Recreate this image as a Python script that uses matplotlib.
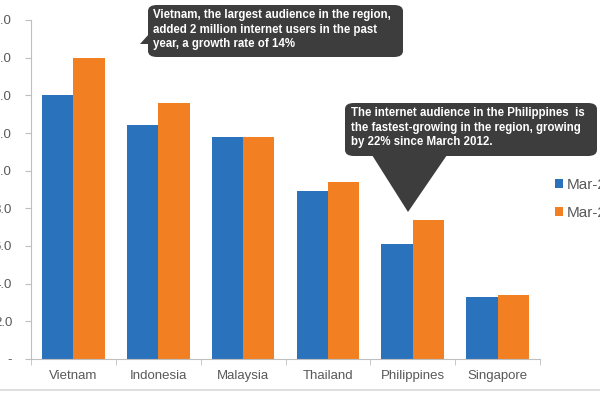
import numpy as np
import matplotlib
matplotlib.use("Agg")
import matplotlib.pyplot as plt
from matplotlib.patches import FancyBboxPatch, Polygon
from matplotlib.lines import Line2D

plt.rcParams['font.family'] = ['Liberation Sans', 'DejaVu Sans']

countries = ["Vietnam", "Indonesia", "Malaysia", "Thailand", "Philippines", "Singapore"]
mar_2012 = [14.0, 12.4, 11.8, 8.9, 6.1, 3.3]
mar_2013 = [16.0, 13.6, 11.8, 9.4, 7.4, 3.4]
series_labels = ["Mar-2012", "Mar-2013"]
y_ticks = [0, 2, 4, 6, 8, 10, 12, 14, 16, 18]

note_vietnam = ("Vietnam, the largest audience in the region,\n"
                "added 2 million internet users in the past\n"
                "year, a growth rate of 14%")
note_philippines = ("The internet audience in the Philippines  is\n"
                    "the fastest-growing in the region, growing\n"
                    "by 22% since March 2012.")

BLUE = '#2B72BD'
ORANGE = '#F27F22'
GRAY = '#595959'

fig = plt.figure(figsize=(6, 4), dpi=100)
ax = fig.add_axes([31 / 600, 41 / 400, 509 / 600, 339 / 400])

x = np.arange(len(countries))
w = 0.37
ax.bar(x - w / 2, mar_2012, w, color=BLUE, label=series_labels[0])
ax.bar(x + w / 2, mar_2013, w, color=ORANGE, label=series_labels[1])

ax.set_xlim(-0.5, len(countries) - 0.5)
ax.set_ylim(0, 18)
ax.set_yticks(y_ticks)
ax.set_yticklabels(["-"] + [f"{v:.1f}" for v in y_ticks[1:]])
ax.set_xticks(x)
ax.set_xticklabels(countries)
ax.set_xticks(np.arange(len(countries) + 1) - 0.5, minor=True)
ax.tick_params(axis='x', which='major', length=0, pad=8, labelsize=9.5, labelcolor=GRAY)
ax.tick_params(axis='x', which='minor', length=4, color='#bfbfbf')
ax.tick_params(axis='y', length=4, pad=9.5, labelsize=9.5, labelcolor=GRAY, color='#bfbfbf')

for s in ['top', 'right']:
    ax.spines[s].set_visible(False)
for s in ['left', 'bottom']:
    ax.spines[s].set_color('#bfbfbf')

ax.legend(loc='upper left', bbox_to_anchor=(547 / 600, 1 - 170 / 400), bbox_transform=fig.transFigure,
          frameon=False, fontsize=11, handlelength=0.55, handleheight=0.55, handletextpad=0.25,
          labelspacing=0.95, labelcolor=GRAY, borderpad=0)

# callouts (figure pixel coords, y from top)
def px(xp, yp):
    return xp / 600, 1 - yp / 400

box_color = '#3d3d3d'
tf = fig.transFigure

x0, y0 = px(148, 57)
x1, y1 = px(403, 5)
fig.patches.append(FancyBboxPatch((x0, y0), x1 - x0, y1 - y0, boxstyle="round,pad=0,rounding_size=0.015",
                                  transform=tf, facecolor=box_color, edgecolor='none'))
fig.patches.append(Polygon([px(149, 34), px(149, 44), px(140, 44)], closed=True, transform=tf,
                           facecolor=box_color, edgecolor='none'))
fig.text(*px(153, 9), note_vietnam, transform=tf, color='white', fontsize=8.3, fontweight='bold',
         va='top', ha='left', linespacing=1.3)

x0, y0 = px(345, 156)
x1, y1 = px(597, 103)
fig.patches.append(FancyBboxPatch((x0, y0), x1 - x0, y1 - y0, boxstyle="round,pad=0,rounding_size=0.015",
                                  transform=tf, facecolor=box_color, edgecolor='none'))
fig.patches.append(Polygon([px(372, 155), px(447, 155), px(408, 212)], closed=True, transform=tf,
                           facecolor=box_color, edgecolor='none'))
fig.text(*px(351, 107), note_philippines, transform=tf, color='white', fontsize=8.3, fontweight='bold',
         va='top', ha='left', linespacing=1.3)

fig.lines.append(Line2D([0, 1], [1 - 390 / 400] * 2, transform=tf, color='#d9d9d9', linewidth=1.2))

fig.savefig("out.png", dpi=100)
